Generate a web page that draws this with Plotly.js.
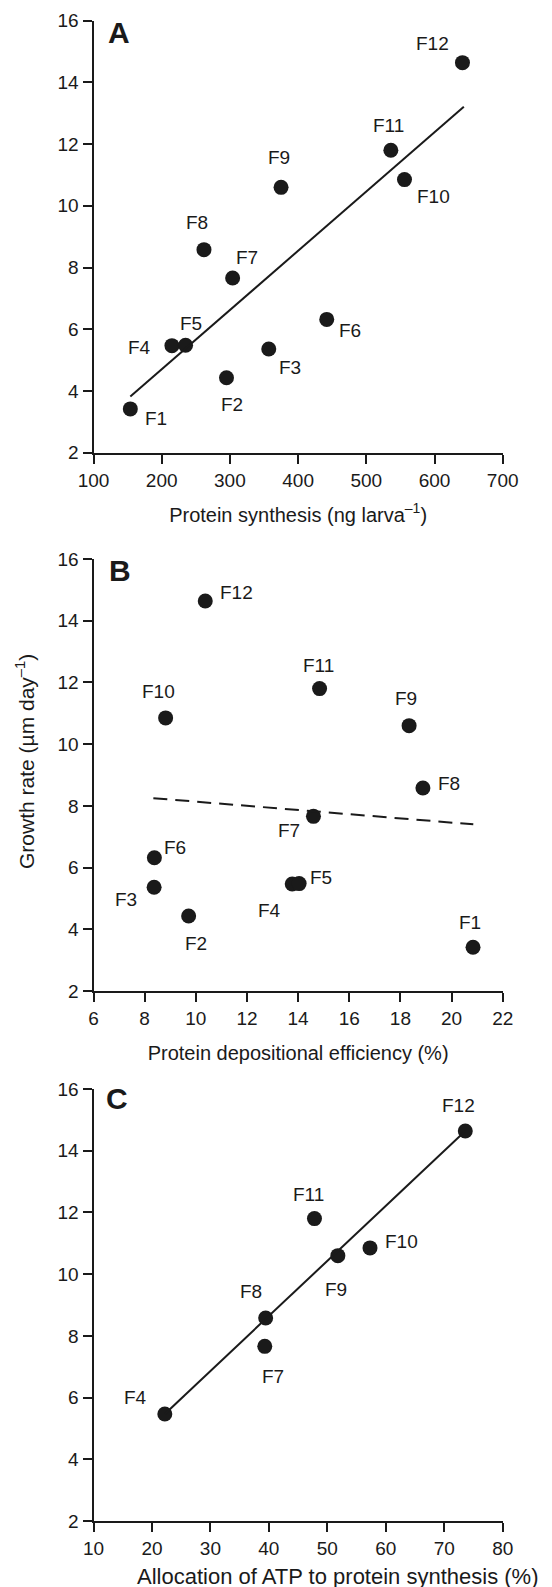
<!DOCTYPE html>
<html>
<head>
<meta charset="utf-8">
<script src="https://cdn.plot.ly/plotly-3.0.1.min.js"></script>
<style>html,body{margin:0;padding:0;background:#fff;}#chart{width:552px;height:1587px;}</style>
</head>
<body>
<div id="chart"></div>
<script>
// ---- data ----
const labels = ['F1','F2','F3','F4','F5','F6','F7','F8','F9','F10','F11','F12'];
const growthRate = [3.42, 4.43, 5.36, 5.47, 5.48, 6.32, 7.66, 8.58, 10.60, 10.85, 11.80, 14.64];
const proteinSynthesis = [154, 295, 357, 215, 235, 442, 304, 262, 375, 556, 536, 641];
const depositionalEfficiency = [20.84, 9.72, 8.37, 13.77, 14.04, 8.38, 14.60, 18.88, 18.34, 8.82, 14.84, 10.37];
const atpLabels = ['F4','F7','F8','F9','F10','F11','F12'];
const atpAllocation = [22.2, 39.3, 39.45, 51.8, 57.3, 47.8, 73.6];
const atpGrowthRate = [5.47, 7.66, 8.58, 10.60, 10.85, 11.80, 14.64];
const fitA_x = [154, 643], fitA_y = [3.82, 13.21];
const fitB_x = [8.34, 20.85], fitB_y = [8.25, 7.40];
const fitC_x = [22.2, 73.6], fitC_y = [5.47, 14.64];
const yTicks = [2, 4, 6, 8, 10, 12, 14, 16];
const xTicksA = [100, 200, 300, 400, 500, 600, 700];
const xTicksB = [6, 8, 10, 12, 14, 16, 18, 20, 22];
const xTicksC = [10, 20, 30, 40, 50, 60, 70, 80];

// ---- label placement (pixel offsets from point) ----
const offA = {F1:[26,-10],F2:[6,-27],F3:[21,-18],F4:[-32,-2],F5:[5,22],F6:[23,-11],F7:[14,21],F8:[-7,27],F9:[-2,30],F10:[29,-17],F11:[-2,25],F12:[-30,19]};
const offB = {F1:[-3,25],F2:[7,-27],F3:[-28,-12],F4:[-23,-27],F5:[22,6],F6:[21,10],F7:[-24,-14],F8:[26,4],F9:[-3,27],F10:[-7,26],F11:[-1,23],F12:[31,8]};
const offC = {F4:[-29,16],F7:[8,-30],F8:[-15,26],F9:[-2,-34],F10:[31,6],F11:[-6,24],F12:[-7,25]};

const W = 552, H = 1587;
const FONT = 'Liberation Sans, Arial, Helvetica, sans-serif';
const INK = '#1a1a1a';
const xDom = [93.5 / W, 502.7 / W];
function yDom(top, bottom) { return [1 - bottom / H, 1 - top / H]; }

const marker = {size: 15, color: INK};
const traces = [
  {x: proteinSynthesis, y: growthRate, mode: 'markers', type: 'scatter', marker, xaxis: 'x', yaxis: 'y'},
  {x: fitA_x, y: fitA_y, mode: 'lines', type: 'scatter', line: {color: INK, width: 2}, xaxis: 'x', yaxis: 'y'},
  {x: depositionalEfficiency, y: growthRate, mode: 'markers', type: 'scatter', marker, xaxis: 'x2', yaxis: 'y2'},
  {x: fitB_x, y: fitB_y, mode: 'lines', type: 'scatter', line: {color: INK, width: 2, dash: '14px,8px'}, xaxis: 'x2', yaxis: 'y2'},
  {x: atpAllocation, y: atpGrowthRate, mode: 'markers', type: 'scatter', marker, xaxis: 'x3', yaxis: 'y3'},
  {x: fitC_x, y: fitC_y, mode: 'lines', type: 'scatter', line: {color: INK, width: 2}, xaxis: 'x3', yaxis: 'y3'}
];

function axisBase(extra) {
  return Object.assign({
    showline: true, linecolor: INK, linewidth: 2, ticks: 'outside', ticklen: 9, tickwidth: 2, tickcolor: INK,
    showgrid: false, zeroline: false, tickfont: {family: FONT, size: 19, color: INK}, fixedrange: true
  }, extra);
}
function xTitle(text) { return {text, font: {family: FONT, size: 20, color: INK}, standoff: 18}; }

const annotations = [];
function addLabels(xs, ys, labs, off, xr, yr) {
  labs.forEach((l, i) => {
    const o = off[l];
    annotations.push({x: xs[i], y: ys[i], xref: xr, yref: yr, text: l, showarrow: false,
      xshift: o[0], yshift: o[1], xanchor: 'center', yanchor: 'middle',
      font: {family: FONT, size: 19, color: INK}});
  });
}
addLabels(proteinSynthesis, growthRate, labels, offA, 'x', 'y');
addLabels(depositionalEfficiency, growthRate, labels, offB, 'x2', 'y2');
addLabels(atpAllocation, atpGrowthRate, atpLabels, offC, 'x3', 'y3');

[['A', 119, 32], ['B', 119.5, 571], ['C', 117, 1098]].forEach(p => {
  annotations.push({text: '<b>' + p[0] + '</b>', xref: 'paper', yref: 'paper', x: p[1] / W, y: 1 - p[2] / H,
    xanchor: 'center', yanchor: 'middle', showarrow: false, font: {family: FONT, size: 30, color: INK}});
});
annotations.push({text: 'Growth rate (µm day<sup>–1</sup>)', xref: 'paper', yref: 'paper', x: 25 / W, y: 1 - 762 / H,
  xanchor: 'center', yanchor: 'middle', textangle: -90, showarrow: false, font: {family: FONT, size: 21, color: INK}});
annotations.push({text: 'Allocation of ATP to protein synthesis (%)', xref: 'paper', yref: 'paper', x: 338 / W, y: 1 - 1576 / H,
  xanchor: 'center', yanchor: 'middle', showarrow: false, font: {family: FONT, size: 22, color: INK}});

const layout = {
  width: W, height: H, margin: {l: 0, r: 0, t: 0, b: 0}, showlegend: false,
  paper_bgcolor: '#fff', plot_bgcolor: '#fff', font: {family: FONT, color: INK},
  xaxis: axisBase({domain: xDom, range: [100, 700], tickvals: xTicksA, anchor: 'y', title: xTitle('Protein synthesis (ng larva<sup>–1</sup>)')}),
  yaxis: axisBase({domain: yDom(20.7, 452.7), range: [2, 16], tickvals: yTicks, anchor: 'x'}),
  xaxis2: axisBase({domain: xDom, range: [6, 22], tickvals: xTicksB, anchor: 'y2', title: xTitle('Protein depositional efficiency (%)')}),
  yaxis2: axisBase({domain: yDom(559, 991), range: [2, 16], tickvals: yTicks, anchor: 'x2'}),
  xaxis3: axisBase({domain: xDom, range: [10, 80], tickvals: xTicksC, anchor: 'y3'}),
  yaxis3: axisBase({domain: yDom(1089, 1521), range: [2, 16], tickvals: yTicks, anchor: 'x3'}),
  annotations
};

Plotly.newPlot('chart', traces, layout, {displayModeBar: false, staticPlot: true});
</script>
</body>
</html>
